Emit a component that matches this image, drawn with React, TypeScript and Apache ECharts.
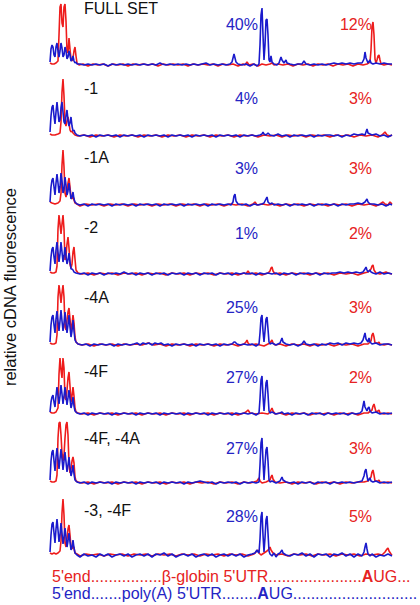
import React, { useEffect, useRef } from "react";
import * as echarts from "echarts";

// ---------- DATA ----------
const panelLabels = ["FULL SET", "-1", "-1A", "-2", "-4A", "-4F", "-4F, -4A", "-3, -4F"];
const bluePercents = ["40%", "4%", "3%", "1%", "25%", "27%", "27%", "28%"];
const redPercents = ["12%", "3%", "3%", "2%", "3%", "2%", "3%", "5%"];
const yAxisLabel = "relative cDNA fluorescence";
const redMapParts = ["5'end................β-globin 5'UTR.....................", "A", "UG..."];
const blueMapParts = ["5'end.......poly(A) 5'UTR........", "A", "UG............................"];

// traces: [position, fluorescence]
const fullSetRed = [[50,2],[52,1],[54,1],[56,2],[58,4],[59,30],[60,58],[61,61],[62,42],[63,38],[64,58],[65,61],[66,44],[67,14],[68,12],[69,27],[70,16],[71,6],[72,4],[73,7],[74,14],[75,18],[76,9],[77,2],[79,0],[83,1],[88,-1],[93,1],[98,0],[103,1],[108,-1],[113,1],[118,0],[123,1],[128,-1],[133,1],[138,0],[143,1],[148,0],[153,1],[158,-1],[163,1],[168,0],[173,1],[178,0],[183,1],[188,-1],[193,1],[198,0],[203,1],[208,0],[213,1],[218,-1],[223,1],[228,0],[233,1],[238,-1],[243,1],[245,0],[247,3],[249,0],[253,1],[258,-1],[262,1],[266,0],[270,1],[272,2],[274,0],[278,1],[283,0],[288,1],[293,-1],[298,1],[303,0],[308,1],[313,-1],[318,1],[323,0],[328,1],[333,-1],[338,1],[343,0],[348,1],[353,-1],[358,1],[363,0],[367,1],[370,3],[371,15],[372,38],[373,43],[374,30],[375,6],[376,2],[377,5],[378,9],[379,10],[380,5],[381,1],[384,0],[388,1],[392,0]];
const fullSetBlue = [[50,3],[51,16],[52,20],[53,18],[54,10],[55,8],[56,18],[57,22],[58,14],[59,8],[60,14],[61,22],[62,17],[63,8],[64,10],[65,18],[66,14],[67,6],[68,8],[69,14],[70,10],[71,4],[72,5],[73,9],[74,4],[75,2],[76,3],[77,1],[80,1],[84,0],[88,1],[92,0],[96,1],[100,0],[104,1],[108,-1],[112,1],[116,0],[120,1],[124,0],[128,1],[132,0],[136,1],[140,0],[144,1],[148,0],[152,1],[156,0],[160,2],[162,1],[166,0],[170,1],[174,0],[178,1],[182,0],[186,1],[190,0],[194,1],[198,0],[202,1],[206,2],[210,0],[214,1],[218,0],[222,1],[226,0],[230,1],[232,3],[234,11],[236,3],[238,1],[242,0],[246,1],[250,-1],[254,1],[257,-1],[259,1],[260,20],[261,50],[262,57],[263,30],[264,5],[265,20],[266,45],[267,46],[268,30],[269,5],[270,3],[271,9],[272,3],[274,1],[277,0],[279,2],[281,8],[282,5],[284,2],[286,5],[287,2],[290,1],[294,0],[298,1],[302,1],[304,4],[306,1],[310,0],[314,1],[318,0],[322,1],[326,0],[330,1],[334,2],[338,1],[342,2],[346,1],[350,2],[354,1],[358,2],[362,2],[364,6],[365,13],[366,7],[368,2],[370,5],[371,2],[373,1],[376,2],[380,1],[384,2],[388,1],[392,1]];

const minus1Red = [[50,2],[52,1],[55,1],[58,2],[60,3],[61,14],[62,44],[63,57],[64,40],[65,14],[66,10],[67,15],[68,19],[69,13],[70,6],[71,4],[72,5],[73,3],[75,1],[78,0],[84,1],[90,-1],[96,1],[102,0],[108,1],[114,-1],[120,1],[126,0],[132,1],[138,-1],[144,1],[150,0],[156,1],[162,-1],[168,1],[174,0],[180,1],[186,-1],[192,1],[198,0],[204,1],[210,-1],[216,1],[222,0],[228,1],[234,-1],[240,1],[246,0],[252,1],[258,-1],[264,1],[270,0],[276,1],[282,-1],[288,1],[294,0],[300,1],[306,-1],[312,1],[318,0],[324,1],[330,-1],[336,1],[342,0],[348,1],[354,-1],[360,1],[366,0],[372,1],[378,-1],[382,1],[385,4],[387,1],[390,0],[392,1]];
const minus1Blue = [[50,4],[51,20],[52,29],[53,31],[54,20],[55,12],[56,24],[57,34],[58,24],[59,14],[60,16],[61,28],[62,34],[63,24],[64,14],[65,12],[66,20],[67,26],[68,16],[69,10],[70,13],[71,19],[72,10],[73,5],[74,6],[75,3],[77,1],[80,0],[84,1],[88,0],[92,1],[96,-1],[100,1],[104,0],[108,1],[112,0],[116,1],[120,-1],[124,1],[128,0],[132,1],[136,0],[140,1],[144,-1],[148,1],[152,0],[156,1],[160,0],[164,1],[168,-1],[172,1],[176,0],[180,1],[184,0],[188,1],[192,-1],[196,1],[200,0],[204,1],[208,0],[212,1],[216,-1],[220,1],[224,0],[228,1],[232,0],[236,1],[240,-1],[244,1],[248,0],[252,1],[256,0],[260,1],[262,2],[263,4],[264,2],[266,1],[268,3],[270,1],[274,0],[278,2],[282,0],[286,1],[290,-1],[294,1],[298,0],[302,1],[306,0],[310,1],[314,-1],[318,1],[322,0],[326,1],[330,1],[334,0],[338,1],[342,-1],[346,1],[350,0],[354,2],[358,1],[362,2],[365,1],[366,4],[367,7],[368,3],[370,2],[372,1],[376,2],[380,0],[384,1],[388,-1],[392,1]];

const minus1ARed = [[50,3],[52,2],[55,1],[58,2],[60,4],[61,12],[62,40],[63,55],[64,38],[65,12],[66,8],[67,14],[68,22],[69,27],[70,18],[71,8],[72,6],[73,9],[74,5],[75,2],[77,1],[80,-1],[86,1],[92,0],[98,1],[104,-1],[110,1],[116,0],[122,1],[128,-1],[134,1],[140,0],[146,1],[152,-1],[158,1],[164,0],[170,1],[176,-1],[182,1],[188,0],[194,1],[200,-1],[206,1],[212,0],[218,1],[224,-1],[230,1],[236,0],[242,1],[248,-1],[253,1],[255,3],[257,0],[262,1],[268,0],[274,1],[280,-1],[286,1],[292,0],[298,1],[304,-1],[310,1],[316,0],[322,1],[328,-1],[334,1],[340,0],[346,1],[352,-1],[358,1],[364,0],[370,1],[376,-1],[380,1],[383,3],[385,1],[388,0],[390,3],[392,1]];
const minus1ABlue = [[50,3],[51,18],[52,25],[53,27],[54,18],[55,10],[56,22],[57,31],[58,22],[59,12],[60,18],[61,32],[62,24],[63,12],[64,16],[65,28],[66,20],[67,10],[68,14],[69,22],[70,14],[71,6],[72,8],[73,13],[74,6],[75,3],[77,1],[80,0],[84,1],[88,-1],[92,1],[96,0],[100,1],[104,0],[108,1],[112,-1],[116,1],[120,0],[124,1],[128,0],[132,1],[136,-1],[140,1],[144,0],[148,1],[152,0],[156,1],[160,-1],[164,1],[168,0],[172,1],[176,0],[180,1],[184,-1],[188,1],[192,0],[196,1],[200,0],[204,1],[208,-1],[212,1],[216,0],[220,1],[224,0],[228,1],[231,0],[233,3],[234,9],[235,11],[236,4],[238,1],[242,0],[246,1],[250,-1],[254,1],[258,0],[262,1],[264,2],[266,6],[267,8],[268,3],[270,1],[272,2],[274,0],[278,1],[282,0],[286,1],[290,-1],[294,1],[298,0],[302,1],[306,0],[310,1],[314,-1],[318,1],[322,0],[326,1],[330,0],[334,1],[338,-1],[342,1],[346,0],[350,1],[354,1],[358,2],[362,1],[365,3],[367,6],[368,3],[370,1],[374,1],[378,0],[382,1],[386,-1],[390,1],[392,0]];

const minus2Red = [[50,2],[52,1],[54,1],[56,2],[57,8],[58,45],[59,59],[60,50],[61,40],[62,50],[63,59],[64,45],[65,14],[66,18],[67,30],[68,37],[69,26],[70,10],[71,6],[72,10],[73,22],[74,27],[75,15],[76,4],[78,1],[82,0],[88,1],[94,-1],[100,1],[106,0],[112,1],[118,-1],[124,1],[130,0],[136,1],[142,-1],[148,1],[154,0],[160,1],[166,-1],[172,1],[178,0],[184,1],[190,-1],[196,1],[202,0],[208,1],[214,-1],[220,1],[226,0],[232,1],[238,-1],[244,1],[246,0],[248,3],[250,0],[256,1],[262,-1],[268,1],[270,3],[271,6],[272,7],[273,3],[275,0],[280,1],[286,-1],[292,1],[298,0],[304,1],[310,-1],[316,1],[322,0],[328,1],[334,-1],[340,1],[346,0],[352,1],[358,-1],[364,1],[368,2],[371,5],[372,8],[373,9],[374,4],[376,1],[380,0],[386,2],[388,1],[392,0]];
const minus2Blue = [[50,3],[51,17],[52,25],[53,27],[54,17],[55,10],[56,24],[57,32],[58,22],[59,12],[60,20],[61,32],[62,22],[63,12],[64,18],[65,27],[66,18],[67,10],[68,14],[69,21],[70,12],[71,5],[72,5],[73,4],[74,2],[76,1],[80,0],[84,1],[88,-1],[92,1],[96,0],[100,1],[104,-1],[108,1],[112,0],[116,1],[120,0],[124,2],[128,0],[132,1],[136,-1],[140,1],[144,0],[148,1],[152,-1],[156,1],[160,0],[164,1],[168,-1],[172,1],[176,0],[180,1],[184,-1],[188,1],[192,0],[196,1],[200,-1],[204,1],[208,0],[212,1],[216,-1],[220,1],[224,0],[228,1],[232,-1],[236,1],[240,0],[244,1],[248,0],[252,1],[256,-1],[260,1],[264,0],[268,1],[272,0],[276,1],[280,-1],[284,1],[288,0],[292,1],[296,-1],[300,1],[304,0],[308,1],[312,0],[316,1],[320,-1],[324,1],[328,0],[332,1],[336,1],[340,2],[344,1],[348,2],[352,1],[356,2],[360,1],[363,2],[365,5],[366,7],[367,4],[368,2],[370,4],[371,2],[373,1],[376,0],[380,2],[384,0],[388,1],[392,0]];

const minus4ARed = [[50,2],[52,1],[54,1],[56,2],[57,10],[58,48],[59,60],[60,52],[61,42],[62,52],[63,60],[64,48],[65,18],[66,15],[67,25],[68,33],[69,37],[70,26],[71,14],[72,20],[73,30],[74,22],[75,8],[76,3],[78,1],[82,0],[88,1],[94,-1],[100,1],[106,0],[112,1],[118,-1],[124,1],[130,0],[136,1],[142,0],[148,2],[154,0],[160,1],[166,-1],[172,1],[178,0],[184,1],[190,-1],[196,1],[202,0],[208,1],[214,-1],[220,1],[226,0],[232,1],[238,-1],[244,1],[246,3],[247,5],[248,2],[250,0],[256,1],[260,0],[264,-1],[268,1],[270,2],[272,5],[273,2],[275,0],[280,1],[286,-1],[292,1],[298,0],[304,1],[310,-1],[316,1],[322,0],[328,1],[334,-1],[340,1],[346,0],[352,1],[358,-1],[364,1],[368,1],[371,4],[372,10],[373,12],[374,8],[375,2],[378,2],[379,3],[380,1],[384,0],[388,1],[392,0]];
const minus4ABlue = [[50,3],[51,20],[52,28],[53,30],[54,20],[55,12],[56,26],[57,34],[58,24],[59,14],[60,24],[61,35],[62,24],[63,14],[64,22],[65,33],[66,22],[67,12],[68,20],[69,30],[70,18],[71,8],[72,14],[73,25],[74,14],[75,5],[76,3],[78,1],[82,0],[86,1],[90,-1],[94,1],[98,0],[102,1],[106,0],[110,1],[114,-1],[118,1],[122,0],[126,1],[130,0],[134,1],[137,2],[140,0],[143,2],[146,1],[149,2],[152,0],[155,2],[158,1],[161,2],[164,0],[168,1],[172,-1],[176,1],[180,0],[184,1],[188,0],[192,1],[196,-1],[200,1],[204,0],[208,1],[212,0],[216,1],[220,-1],[224,1],[228,0],[232,1],[234,3],[235,3],[237,1],[240,0],[244,1],[248,0],[252,1],[256,-1],[259,1],[260,12],[261,27],[262,30],[263,14],[264,3],[265,14],[266,26],[267,28],[268,16],[269,3],[270,1],[272,2],[276,0],[280,2],[282,7],[283,3],[286,1],[290,0],[294,1],[298,-1],[302,1],[304,4],[306,1],[310,0],[314,1],[318,-1],[322,1],[326,0],[330,2],[334,1],[338,2],[342,0],[346,2],[350,1],[354,2],[358,1],[361,2],[363,5],[365,12],[366,6],[368,3],[369,7],[370,3],[372,1],[376,2],[380,0],[384,1],[388,1],[392,0]];

const minus4FRed = [[50,2],[52,1],[54,1],[56,2],[58,6],[59,40],[60,56],[61,44],[62,36],[63,56],[64,46],[65,16],[66,14],[67,24],[68,36],[69,42],[70,28],[71,12],[72,18],[73,27],[74,18],[75,6],[76,2],[78,1],[82,0],[88,1],[94,-1],[100,1],[106,0],[112,1],[118,-1],[124,1],[130,0],[136,1],[142,-1],[148,1],[154,0],[160,1],[166,-1],[172,1],[178,0],[184,1],[190,-1],[196,1],[202,0],[208,1],[214,-1],[220,1],[226,0],[232,1],[238,-1],[244,1],[246,2],[248,4],[250,1],[256,0],[262,1],[268,0],[270,2],[272,6],[273,3],[275,0],[280,1],[286,-1],[292,1],[298,0],[304,1],[310,-1],[316,1],[322,0],[328,1],[334,-1],[340,1],[346,0],[352,1],[358,-1],[364,1],[368,1],[372,4],[373,8],[374,10],[375,6],[376,2],[378,3],[379,4],[380,1],[384,0],[388,1],[392,0]];
const minus4FBlue = [[50,2],[51,12],[52,17],[53,19],[54,12],[55,7],[56,18],[57,27],[58,18],[59,10],[60,18],[61,29],[62,20],[63,10],[64,18],[65,27],[66,18],[67,9],[68,16],[69,24],[70,15],[71,6],[72,10],[73,17],[74,8],[75,3],[77,1],[80,0],[84,1],[88,-1],[92,1],[96,0],[100,1],[104,0],[108,1],[112,-1],[116,1],[120,0],[124,1],[128,0],[132,1],[136,-1],[140,1],[144,0],[148,1],[152,0],[156,1],[160,-1],[164,1],[168,0],[172,1],[176,0],[180,1],[184,-1],[188,1],[192,0],[196,1],[200,0],[204,1],[208,-1],[212,1],[216,0],[220,1],[224,0],[228,1],[232,-1],[236,1],[240,0],[244,1],[248,0],[252,1],[256,-1],[259,1],[260,15],[261,34],[262,38],[263,18],[264,3],[265,16],[266,31],[267,34],[268,20],[269,3],[270,1],[272,2],[276,0],[280,1],[282,2],[284,0],[288,1],[292,-1],[296,1],[300,0],[304,1],[308,-1],[312,1],[316,0],[320,1],[324,-1],[328,1],[332,0],[336,1],[340,0],[344,1],[348,-1],[352,1],[356,0],[360,1],[362,3],[363,8],[364,13],[365,7],[367,3],[368,6],[369,7],[370,3],[372,1],[376,2],[380,0],[384,1],[388,0],[392,1]];

const minus4F4ARed = [[50,2],[52,1],[54,1],[56,2],[57,8],[58,45],[59,60],[60,61],[61,48],[62,30],[63,22],[64,28],[65,45],[66,58],[67,61],[68,48],[69,18],[70,10],[71,14],[72,22],[73,26],[74,20],[75,6],[76,2],[78,1],[82,0],[88,1],[94,-1],[100,1],[106,0],[112,1],[118,-1],[124,1],[130,0],[136,1],[142,-1],[148,1],[154,0],[160,1],[166,-1],[172,1],[178,0],[184,1],[190,-1],[196,1],[202,0],[208,1],[214,-1],[220,1],[226,0],[232,1],[238,-1],[244,1],[250,0],[254,1],[257,2],[259,5],[260,2],[262,0],[266,1],[270,3],[271,6],[272,8],[273,4],[275,1],[280,0],[286,1],[292,-1],[298,1],[304,0],[310,1],[316,-1],[322,1],[328,0],[334,1],[340,-1],[346,1],[352,0],[358,1],[364,1],[368,2],[371,6],[372,11],[373,13],[374,8],[375,2],[378,2],[379,3],[380,1],[384,0],[388,1],[392,0]];
const minus4F4ABlue = [[50,3],[51,22],[52,31],[53,33],[54,22],[55,12],[56,26],[57,35],[58,25],[59,14],[60,24],[61,34],[62,24],[63,13],[64,22],[65,31],[66,21],[67,11],[68,18],[69,26],[70,16],[71,7],[72,11],[73,18],[74,9],[75,3],[77,1],[80,0],[84,1],[88,-1],[92,1],[96,0],[100,1],[104,0],[108,1],[112,-1],[116,1],[120,0],[124,1],[128,0],[132,1],[136,-1],[140,1],[144,0],[148,1],[152,0],[156,1],[160,-1],[164,1],[168,0],[172,1],[176,0],[180,1],[184,-1],[188,1],[192,0],[196,1],[200,2],[204,1],[208,0],[212,1],[216,-1],[220,1],[224,0],[228,1],[232,0],[236,1],[240,-1],[244,1],[248,0],[252,1],[256,0],[259,1],[260,18],[261,40],[262,45],[263,22],[264,3],[265,18],[266,33],[267,36],[268,22],[269,3],[270,1],[272,2],[276,0],[280,2],[282,6],[283,3],[286,1],[290,0],[294,1],[298,-1],[302,1],[306,0],[310,1],[314,-1],[318,1],[322,0],[326,1],[330,-1],[334,1],[338,0],[342,1],[346,0],[350,1],[354,0],[358,1],[362,2],[364,7],[365,12],[366,14],[367,7],[368,2],[370,5],[371,2],[373,1],[376,2],[380,0],[384,1],[388,0],[392,1]];

const minus3F4Red = [[50,2],[52,1],[54,2],[56,1],[58,2],[60,4],[61,14],[62,42],[63,56],[64,40],[65,12],[66,8],[67,16],[68,26],[69,30],[70,20],[71,8],[72,6],[73,10],[74,7],[75,2],[77,1],[80,-1],[86,1],[92,0],[98,1],[104,-1],[110,1],[116,0],[122,1],[128,-1],[134,1],[140,0],[146,1],[152,-1],[158,1],[164,0],[170,1],[176,-1],[182,1],[188,0],[194,1],[200,-1],[206,1],[212,0],[218,1],[224,-1],[230,1],[236,0],[242,1],[248,-1],[254,1],[256,3],[258,5],[259,2],[261,0],[264,2],[267,4],[269,6],[270,8],[271,5],[273,2],[276,0],[282,1],[288,-1],[294,1],[300,0],[306,1],[312,-1],[318,1],[324,0],[330,1],[336,-1],[342,1],[348,0],[354,1],[360,-1],[366,1],[372,0],[378,1],[382,0],[385,3],[387,6],[388,7],[389,4],[391,1],[392,0]];
const minus3F4Blue = [[50,3],[51,20],[52,31],[53,33],[54,22],[55,12],[56,26],[57,36],[58,25],[59,13],[60,20],[61,32],[62,22],[63,11],[64,18],[65,27],[66,18],[67,8],[68,14],[69,22],[70,13],[71,5],[72,8],[73,15],[74,7],[75,2],[77,0],[80,-2],[84,1],[88,-1],[92,0],[96,-2],[100,1],[104,-1],[108,1],[112,-2],[116,0],[120,1],[124,-1],[128,1],[132,-2],[136,0],[140,1],[144,-1],[148,1],[152,-2],[156,1],[160,0],[164,2],[168,-1],[172,1],[176,-2],[180,0],[184,1],[188,-1],[192,1],[196,-2],[200,0],[204,1],[208,-1],[212,1],[216,-2],[220,0],[224,1],[228,-1],[232,1],[236,-1],[240,1],[244,-2],[248,0],[252,1],[255,2],[257,5],[258,3],[259,2],[260,16],[261,38],[262,43],[263,20],[264,3],[265,17],[266,35],[267,39],[268,22],[269,4],[270,1],[272,-1],[274,2],[276,-2],[278,1],[280,2],[282,5],[283,2],[286,0],[290,-1],[294,1],[298,0],[302,2],[306,-1],[310,1],[314,-2],[318,1],[322,0],[326,1],[330,-2],[334,1],[338,0],[342,2],[346,-1],[350,1],[354,-2],[358,1],[362,-1],[364,3],[365,8],[366,12],[367,6],[368,1],[370,-1],[372,1],[376,-2],[380,0],[384,-1],[388,1],[392,-1]];

const redTraces = [fullSetRed, minus1Red, minus1ARed, minus2Red, minus4ARed, minus4FRed, minus4F4ARed, minus3F4Red];
const blueTraces = [fullSetBlue, minus1Blue, minus1ABlue, minus2Blue, minus4ABlue, minus4FBlue, minus4F4ABlue, minus3F4Blue];

// ---------- LAYOUT ----------
const BASELINES = [65, 136, 205, 274, 345, 414, 483, 555];
const LABEL_Y = [8, 88, 157, 227, 297, 371, 438, 510];
const PCT_Y = [24, 98, 168, 233, 307, 377, 448, 516];
const RED = "#ee1c1c";
const BLUE = "#1a1acc";
const RED_TEXT = "#e62222";
const BLUE_TEXT = "#2424c4";
const FONT = "'Liberation Sans', Arial, Helvetica, sans-serif";

function buildOption() {
  const grid: any[] = [];
  const xAxis: any[] = [];
  const yAxis: any[] = [];
  const series: any[] = [];
  const graphic: any[] = [];
  BASELINES.forEach((b, i) => {
    grid.push({ left: 50, width: 342, top: b - 62, height: 66 });
    xAxis.push({ type: "value", gridIndex: i, min: 50, max: 392, show: false });
    yAxis.push({ type: "value", gridIndex: i, min: -4, max: 62, show: false });
    series.push({
      type: "line", xAxisIndex: i, yAxisIndex: i, data: redTraces[i],
      symbol: "none", silent: true, z: 2,
      lineStyle: { color: RED, width: 1.6 }, itemStyle: { color: RED },
    });
    series.push({
      type: "line", xAxisIndex: i, yAxisIndex: i, data: blueTraces[i],
      symbol: "none", silent: true, z: 3,
      lineStyle: { color: BLUE, width: 1.6 }, itemStyle: { color: BLUE },
    });
    graphic.push({
      type: "text", x: 84, y: LABEL_Y[i], z: 10,
      style: { text: panelLabels[i], fill: "#111", font: `16px ${FONT}`, align: "left", verticalAlign: "middle", textAlign: "left", textVerticalAlign: "middle" },
    });
    graphic.push({
      type: "text", x: 258, y: PCT_Y[i], z: 10,
      style: { text: bluePercents[i], fill: BLUE_TEXT, font: `16px ${FONT}`, align: "right", verticalAlign: "middle", textAlign: "right", textVerticalAlign: "middle" },
    });
    graphic.push({
      type: "text", x: 372, y: PCT_Y[i], z: 10,
      style: { text: redPercents[i], fill: RED_TEXT, font: `16px ${FONT}`, align: "right", verticalAlign: "middle", textAlign: "right", textVerticalAlign: "middle" },
    });
  });
  graphic.push({
    type: "text", x: 10, y: 287, rotation: Math.PI / 2, z: 10,
    style: { text: yAxisLabel, fill: "#111", font: `16.5px ${FONT}`, align: "center", verticalAlign: "middle", textAlign: "center", textVerticalAlign: "middle" },
  });
  const mkRich = (color: string) => ({
    n: { color, fontSize: 16, fontFamily: FONT, fontWeight: "normal", lineHeight: 18 },
    b: { color, fontSize: 16, fontFamily: FONT, fontWeight: "bold", lineHeight: 18 },
  });
  const title = [
    {
      text: `{n|${redMapParts[0]}}{b|${redMapParts[1]}}{n|${redMapParts[2]}}`,
      left: 52, top: 567, padding: 0,
      textStyle: { fontWeight: "normal", fontSize: 16, fontFamily: FONT, color: RED_TEXT, rich: mkRich(RED_TEXT) },
    },
    {
      text: `{n|${blueMapParts[0]}}{b|${blueMapParts[1]}}{n|${blueMapParts[2]}}`,
      left: 52, top: 584, padding: 0,
      textStyle: { fontWeight: "normal", fontSize: 16, fontFamily: FONT, color: BLUE_TEXT, rich: mkRich(BLUE_TEXT) },
    },
  ];
  return { animation: false, backgroundColor: "#fff", grid, xAxis, yAxis, series, graphic, title };
}

export default function App() {
  const ref = useRef<HTMLDivElement>(null);
  useEffect(() => {
    if (!ref.current) return;
    const chart = echarts.init(ref.current, null, { renderer: "svg" });
    chart.setOption(buildOption() as any);
    return () => chart.dispose();
  }, []);
  return (
    <div
      ref={ref}
      style={{ position: "absolute", left: 0, top: 0, width: 420, height: 605, background: "#fff", overflow: "hidden" }}
    />
  );
}
